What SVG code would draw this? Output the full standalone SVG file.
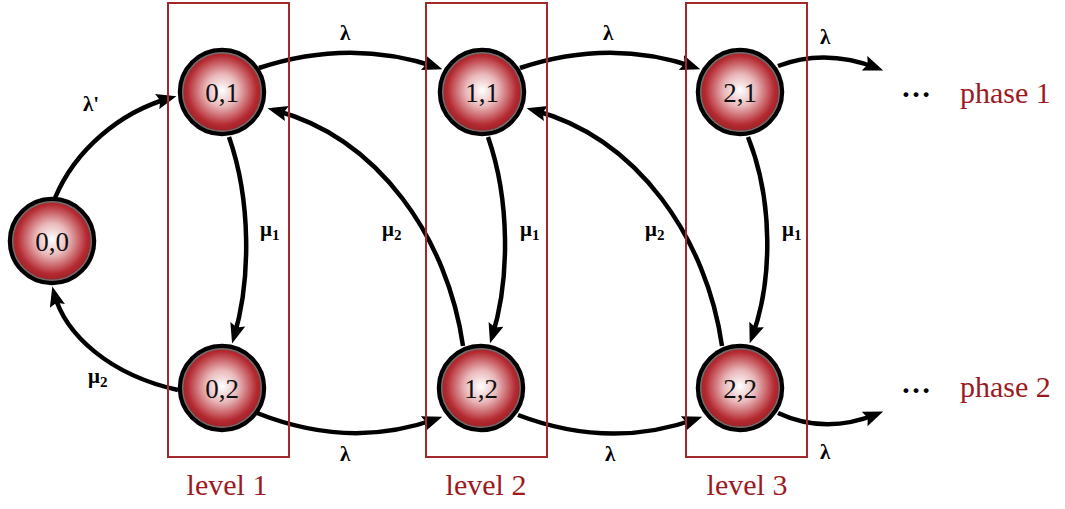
<svg xmlns="http://www.w3.org/2000/svg" width="1065" height="509" viewBox="0 0 1065 509">
  <style>
    .edge { fill: none; stroke: #000; stroke-width: 4.5; marker-end: url(#arrow); }
    .box { fill: none; stroke: #a3282b; stroke-width: 2; }
    .ring { fill: url(#nodeGrad); stroke: #000; stroke-width: 4.5; }
    .inner { fill: none; stroke: #6e6e6e; stroke-width: 1.5; }
    .ntext { font-family: "Liberation Serif", "Times New Roman", serif; font-size: 27px; fill: #111; text-anchor: middle; }
    .lbl { font-family: "Liberation Serif", "Times New Roman", serif; font-size: 21px; font-weight: bold; fill: #000; }
    .sub { font-size: 15px; }
    .red { font-family: "Liberation Serif", "Times New Roman", serif; font-size: 30px; fill: #9b1b1f; }
    .dots { font-family: "Liberation Serif", "Times New Roman", serif; font-size: 30px; font-weight: bold; fill: #000; }
  </style>
  <defs>
    <radialGradient id="nodeGrad" cx="50%" cy="48%" r="55%">
      <stop offset="0" stop-color="#ffffff"/>
      <stop offset="0.35" stop-color="#e9b8ba"/>
      <stop offset="0.75" stop-color="#b42a31"/>
      <stop offset="1" stop-color="#8c1a1f"/>
    </radialGradient>
    <marker id="arrow" markerUnits="userSpaceOnUse" markerWidth="20" markerHeight="16" viewBox="0 0 18 14" refX="12" refY="7" orient="auto">
      <path d="M0,0 L18,7 L0,14 L3,7 z" fill="#000"/>
    </marker>
  </defs>

  <g id="connectors">
    <path class="edge" d="M 55 198 C 75 150, 120 112, 170 98"/>
    <path class="edge" d="M 178 390 C 110 375, 65 335, 54 293"/>
    <path class="edge" d="M 229 137 C 251 200, 251 280, 234 337"/>
    <path class="edge" d="M 259 68 Q 350 38, 436 67"/>
    <path class="edge" d="M 520 68 Q 610 38, 694 67"/>
    <path class="edge" d="M 778 66 Q 825 48, 877 68"/>
    <path class="edge" d="M 257 413 Q 350 450, 436 419"/>
    <path class="edge" d="M 518 415 Q 610 450, 696 419"/>
    <path class="edge" d="M 778 413 Q 825 435, 877 414"/>
    <path class="edge" d="M 463 346 C 448 240, 380 138, 274 110"/>
    <path class="edge" d="M 722 346 C 707 240, 639 138, 533 110"/>
    <path class="edge" d="M 488 137 C 510 200, 510 280, 492 337"/>
    <path class="edge" d="M 748 137 C 773 200, 773 280, 752 337"/>
  </g>

  <g id="edge-labels">
    <text class="lbl" x="83" y="111">λ'</text>
    <text class="lbl" x="88" y="383">μ<tspan class="sub" dy="4">2</tspan></text>
    <text class="lbl" x="260" y="236">μ<tspan class="sub" dy="4">1</tspan></text>
    <text class="lbl" x="382" y="236">μ<tspan class="sub" dy="4">2</tspan></text>
    <text class="lbl" x="520" y="236">μ<tspan class="sub" dy="4">1</tspan></text>
    <text class="lbl" x="645" y="236">μ<tspan class="sub" dy="4">2</tspan></text>
    <text class="lbl" x="782" y="236">μ<tspan class="sub" dy="4">1</tspan></text>
    <text class="lbl" x="340" y="40">λ</text>
    <text class="lbl" x="603" y="40">λ</text>
    <text class="lbl" x="820" y="44">λ</text>
    <text class="lbl" x="340" y="461">λ</text>
    <text class="lbl" x="605" y="461">λ</text>
    <text class="lbl" x="820" y="459">λ</text>
  </g>

  <g id="levels">
    <g id="level1"><rect class="box" x="168" y="3" width="121" height="454"/><text class="red" x="227" y="495" text-anchor="middle">level 1</text></g>
    <g id="level2"><rect class="box" x="426" y="3" width="121" height="454"/><text class="red" x="486" y="495" text-anchor="middle">level 2</text></g>
    <g id="level3"><rect class="box" x="686" y="3" width="121" height="454"/><text class="red" x="747" y="495" text-anchor="middle">level 3</text></g>
  </g>

  <g id="node-0-0"><circle class="ring" cx="52" cy="241" r="42"/><circle class="inner" cx="52" cy="241" r="39.3"/><text class="ntext" x="52" y="251">0,0</text></g>
  <g id="node-0-1"><circle class="ring" cx="222" cy="92" r="42"/><circle class="inner" cx="222" cy="92" r="39.3"/><text class="ntext" x="222" y="102">0,1</text></g>
  <g id="node-0-2"><circle class="ring" cx="222" cy="388" r="42"/><circle class="inner" cx="222" cy="388" r="39.3"/><text class="ntext" x="222" y="398">0,2</text></g>
  <g id="node-1-1"><circle class="ring" cx="482" cy="92" r="42"/><circle class="inner" cx="482" cy="92" r="39.3"/><text class="ntext" x="482" y="102">1,1</text></g>
  <g id="node-1-2"><circle class="ring" cx="481" cy="388" r="42"/><circle class="inner" cx="481" cy="388" r="39.3"/><text class="ntext" x="481" y="398">1,2</text></g>
  <g id="node-2-1"><circle class="ring" cx="740" cy="92" r="42"/><circle class="inner" cx="740" cy="92" r="39.3"/><text class="ntext" x="740" y="102">2,1</text></g>
  <g id="node-2-2"><circle class="ring" cx="740" cy="388" r="42"/><circle class="inner" cx="740" cy="388" r="39.3"/><text class="ntext" x="740" y="398">2,2</text></g>

  <g id="phase1"><text class="dots" x="901" y="97">…</text><text class="red" x="960" y="103">phase 1</text></g>
  <g id="phase2"><text class="dots" x="901" y="393">…</text><text class="red" x="960" y="397">phase 2</text></g>
</svg>
